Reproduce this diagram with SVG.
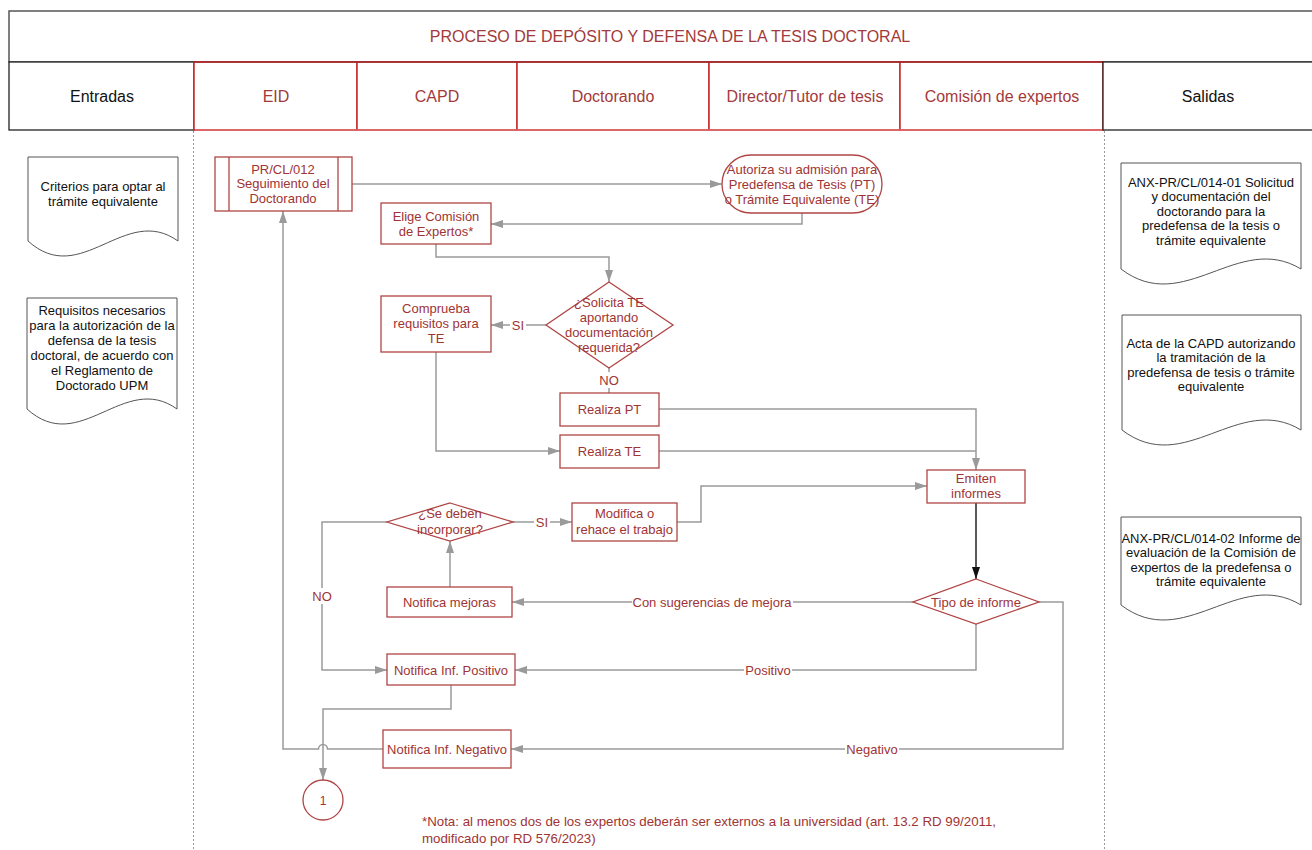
<svg xmlns="http://www.w3.org/2000/svg" width="1312" height="850" viewBox="0 0 1312 850">
<defs>
<style>
text{font-family:"Liberation Sans",Arial,sans-serif;}
.hdr{font-size:16px;text-anchor:middle;}
.red{fill:#a33a3a;}
.blk{fill:#111;}
.nt{font-size:13px;fill:#9e3434;text-anchor:middle;}
.dt{font-size:13px;fill:#111;text-anchor:middle;}
.lb{font-size:13px;fill:#9e3434;text-anchor:middle;}
.node{fill:#fff;stroke:#b04545;stroke-width:1.3;}
.doc{fill:#fff;stroke:#555;stroke-width:1;}
.lane{fill:#fff;stroke:#c62828;stroke-width:1.5;}
.io{fill:#fff;stroke:#222;stroke-width:1.3;}
.sep{stroke:#999;stroke-width:1;stroke-dasharray:2,2;fill:none;}
.con{fill:none;stroke:#9a9a9a;stroke-width:1.5;}
.conb{fill:none;stroke:#222;stroke-width:1.5;}
.bg{fill:#fff;}
</style>
<marker id="ah" markerUnits="userSpaceOnUse" markerWidth="12" markerHeight="8" refX="12" refY="4" orient="auto">
<path d="M0,0 L12,4 L0,8 z" fill="#9a9a9a"/>
</marker>
<marker id="ahb" markerUnits="userSpaceOnUse" markerWidth="12" markerHeight="8" refX="12" refY="4" orient="auto">
<path d="M0,0 L12,4 L0,8 z" fill="#111"/>
</marker>
</defs>
<rect width="1312" height="850" fill="#fff"/>

<g id="header">
<rect x="9" y="11" width="1310" height="51" fill="#fff" stroke="#555" stroke-width="1.5"/>
<text class="hdr red" x="670" y="42">PROCESO DE DEPÓSITO Y DEFENSA DE LA TESIS DOCTORAL</text>
<rect class="io" x="9" y="62" width="185" height="68"/>
<rect class="lane" x="194" y="62" width="163" height="68"/>
<rect class="lane" x="357" y="62" width="160" height="68"/>
<rect class="lane" x="517" y="62" width="192" height="68"/>
<rect class="lane" x="709" y="62" width="191" height="68"/>
<rect class="lane" x="900" y="62" width="203" height="68"/>
<path d="M194,62 H1103" stroke="#a02a2a" stroke-width="1.5"/>
<path d="M195,130 H1103" stroke="#e06a6a" stroke-width="1.5"/>
<rect class="io" x="1103" y="62" width="217" height="68"/>
<text class="hdr blk" x="102" y="101.5">Entradas</text>
<text class="hdr red" x="276" y="101.5">EID</text>
<text class="hdr red" x="437" y="101.5">CAPD</text>
<text class="hdr red" x="613" y="101.5">Doctorando</text>
<text class="hdr red" x="805" y="101.5">Director/Tutor de tesis</text>
<text class="hdr red" x="1002" y="101.5">Comisión de expertos</text>
<text class="hdr blk" x="1208" y="101.5">Salidas</text>
<path class="sep" d="M193.5,131 V850 M1104.5,131 V850"/>
</g>

<g id="in1">
<path class="doc" d="M28,157 H178 V241 C125,203 81,289 28,241 Z"/>
<text class="dt" x="103" y="190.5">Criterios para optar al</text>
<text class="dt" x="103" y="205.5">trámite equivalente</text>
</g>
<g id="in2">
<path class="doc" d="M27,298 H177 V409 C124,371 80,457 27,409 Z"/>
<text class="dt" x="102" y="314.5">Requisitos necesarios</text>
<text class="dt" x="102" y="329.5">para la autorización de la</text>
<text class="dt" x="102" y="344.5">defensa de la tesis</text>
<text class="dt" x="102" y="359.5">doctoral, de acuerdo con</text>
<text class="dt" x="102" y="374.5">el Reglamento de</text>
<text class="dt" x="102" y="389.5">Doctorado UPM</text>
</g>

<g id="out1">
<path class="doc" d="M1121,163 H1301 V269 C1238,231 1184,317 1121,269 Z"/>
<text class="dt" x="1211" y="186.5">ANX-PR/CL/014-01 Solicitud</text>
<text class="dt" x="1211" y="201">y documentación del</text>
<text class="dt" x="1211" y="215.5">doctorando para la</text>
<text class="dt" x="1211" y="230">predefensa de la tesis o</text>
<text class="dt" x="1211" y="244.5">trámite equivalente</text>
</g>
<g id="out2">
<path class="doc" d="M1122,315 H1301 V430 C1238,392 1185,478 1122,430 Z"/>
<text class="dt" x="1211" y="347.5">Acta de la CAPD autorizando</text>
<text class="dt" x="1211" y="362">la tramitación de la</text>
<text class="dt" x="1211" y="376.5">predefensa de tesis o trámite</text>
<text class="dt" x="1211" y="391">equivalente</text>
</g>
<g id="out3">
<path class="doc" d="M1121,517 H1301 V605 C1238,567 1184,653 1121,605 Z"/>
<text class="dt" x="1211" y="542.5">ANX-PR/CL/014-02 Informe de</text>
<text class="dt" x="1211" y="557">evaluación de la Comisión de</text>
<text class="dt" x="1211" y="571.5">expertos de la predefensa o</text>
<text class="dt" x="1211" y="586">trámite equivalente</text>
</g>

<g id="connectors">
<path class="con" d="M352,184 H722" marker-end="url(#ah)"/>
<path class="con" d="M802,213 V224 H491" marker-end="url(#ah)"/>
<path class="con" d="M436,244 V257 H609 V282" marker-end="url(#ah)"/>
<path class="con" d="M546,325 H491" marker-end="url(#ah)"/>
<path class="con" d="M609,368 V393"/>
<path class="con" d="M436,352 V451 H560" marker-end="url(#ah)"/>
<path class="con" d="M659,409 H976 V470" marker-end="url(#ah)"/>
<path class="con" d="M659,451 H976"/>
<path class="con" d="M677,522 H701 V486 H927" marker-end="url(#ah)"/>
<path class="con" d="M513,522 H572" marker-end="url(#ah)"/>
<path class="con" d="M387,522 H322 V670 H387" marker-end="url(#ah)"/>
<path class="con" d="M450,587 V541" marker-end="url(#ah)"/>
<path class="conb" d="M976,503 V579" marker-end="url(#ahb)"/>
<path class="con" d="M913,602 H512" marker-end="url(#ah)"/>
<path class="con" d="M976,624 V670 H515" marker-end="url(#ah)"/>
<path class="con" d="M1039,602 H1063 V749 H511" marker-end="url(#ah)"/>
<path class="con" d="M383,749 H327.5 A4.5,4.5 0 0 0 318.5,749 H283 V211" marker-end="url(#ah)"/>
<path class="con" d="M451,685 V709 H323 V780" marker-end="url(#ah)"/>
<rect class="bg" x="510" y="317" width="16" height="16"/>
<text class="lb" x="518" y="329.5">SI</text>
<rect class="bg" x="598" y="372" width="22" height="16"/>
<text class="lb" x="609" y="384.5">NO</text>
<rect class="bg" x="534" y="514" width="16" height="16"/>
<text class="lb" x="542" y="526.5">SI</text>
<rect class="bg" x="311" y="588" width="22" height="16"/>
<text class="lb" x="322" y="600.5">NO</text>
<rect class="bg" x="632" y="594" width="161" height="16"/>
<text class="lb" x="712" y="606.5">Con sugerencias de mejora</text>
<rect class="bg" x="744" y="662" width="48" height="16"/>
<text class="lb" x="768" y="674.5">Positivo</text>
<rect class="bg" x="845" y="741" width="54" height="16"/>
<text class="lb" x="872" y="753.5">Negativo</text>
</g>

<g id="n-prcl">
<rect class="node" x="215" y="157" width="137" height="54"/>
<path class="node" d="M229,157 V211 M338,157 V211"/>
<text class="nt" x="283" y="173.5">PR/CL/012</text>
<text class="nt" x="283" y="187.5">Seguimiento del</text>
<text class="nt" x="283" y="202.5">Doctorando</text>
</g>
<g id="n-autoriza">
<rect class="node" x="722" y="155" width="160" height="58" rx="29" ry="29"/>
<text class="nt" x="802" y="173.5">Autoriza su admisión para</text>
<text class="nt" x="802" y="188.5">Predefensa de Tesis (PT)</text>
<text class="nt" x="802" y="203.5">o Trámite Equivalente (TE)</text>
</g>
<g id="n-elige">
<rect class="node" x="381" y="203" width="110" height="41"/>
<text class="nt" x="436" y="220.5">Elige Comisión</text>
<text class="nt" x="436" y="235.5">de Expertos*</text>
</g>
<g id="n-solicita">
<polygon class="node" points="609,282 673,325 609,368 546,325"/>
<text class="nt" x="609" y="306.5">¿Solicita TE</text>
<text class="nt" x="609" y="321.5">aportando</text>
<text class="nt" x="609" y="336.5">documentación</text>
<text class="nt" x="609" y="351.5">requerida?</text>
</g>
<g id="n-comprueba">
<rect class="node" x="381" y="296" width="110" height="56"/>
<text class="nt" x="436" y="312.5">Comprueba</text>
<text class="nt" x="436" y="327.5">requisitos para</text>
<text class="nt" x="436" y="342.5">TE</text>
</g>
<g id="n-pt">
<rect class="node" x="560" y="393" width="99" height="33"/>
<text class="nt" x="609.5" y="413.5">Realiza PT</text>
</g>
<g id="n-te">
<rect class="node" x="560" y="435" width="99" height="33"/>
<text class="nt" x="609.5" y="455.5">Realiza TE</text>
</g>
<g id="n-emiten">
<rect class="node" x="927" y="470" width="98" height="33"/>
<text class="nt" x="976" y="482.5">Emiten</text>
<text class="nt" x="976" y="497.5">informes</text>
</g>
<g id="n-modifica">
<rect class="node" x="572" y="503" width="105" height="38"/>
<text class="nt" x="624.5" y="517.5">Modifica o</text>
<text class="nt" x="624.5" y="533.5">rehace el trabajo</text>
</g>
<g id="n-incorporar">
<polygon class="node" points="450,503 513,522 450,541 387,522"/>
<text class="nt" x="450" y="517.5">¿Se deben</text>
<text class="nt" x="450" y="533.5">incorporar?</text>
</g>
<g id="n-mejoras">
<rect class="node" x="387" y="587" width="125" height="30"/>
<text class="nt" x="449.5" y="606.5">Notifica mejoras</text>
</g>
<g id="n-tipo">
<polygon class="node" points="976,579 1039,602 976,624 913,602"/>
<text class="nt" x="976" y="606.5">Tipo de informe</text>
</g>
<g id="n-positivo">
<rect class="node" x="387" y="654" width="128" height="31"/>
<text class="nt" x="451" y="674.5">Notifica Inf. Positivo</text>
</g>
<g id="n-negativo">
<rect class="node" x="383" y="730" width="128" height="38"/>
<text class="nt" x="447" y="753.5">Notifica Inf. Negativo</text>
</g>
<g id="n-conector1">
<circle class="node" cx="323" cy="800" r="20"/>
<text class="nt" x="323" y="804.5" style="font-size:12px">1</text>
</g>
<g id="nota">
<text x="422" y="826" style="font-size:13.3px;fill:#9e3434">*Nota: al menos dos de los expertos deberán ser externos a la universidad (art. 13.2 RD 99/2011,</text>
<text x="422" y="843" style="font-size:13.3px;fill:#9e3434">modificado por RD 576/2023)</text>
</g>
</svg>
